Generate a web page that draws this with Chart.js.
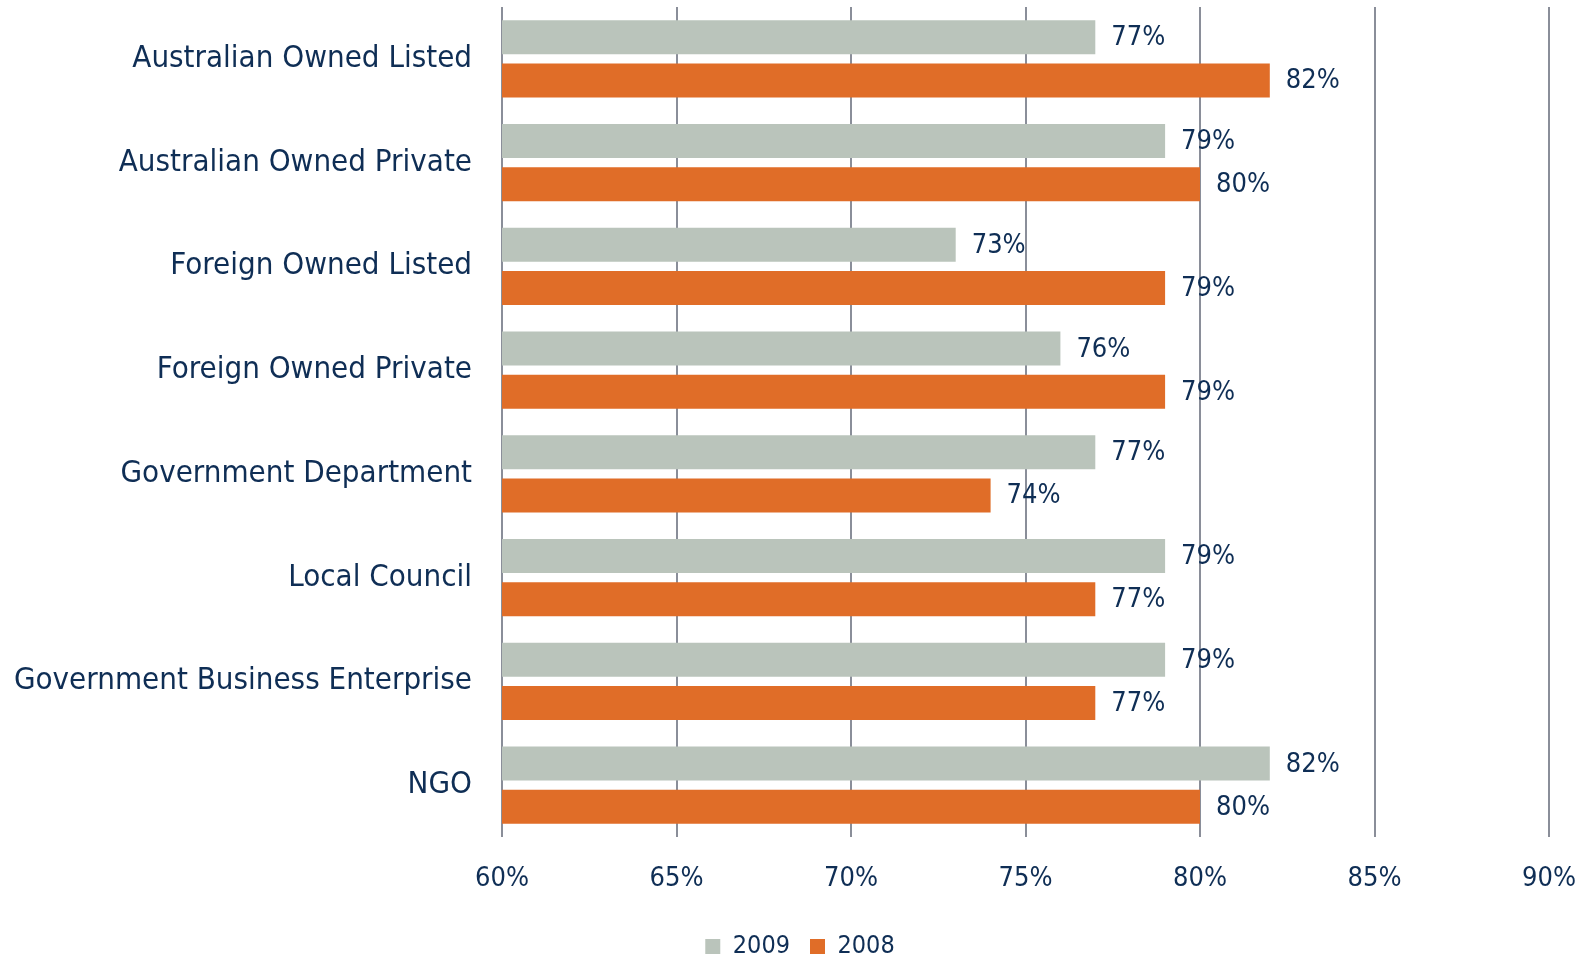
<!DOCTYPE html>
<html>
<head>
<meta charset="utf-8">
<script src="https://cdn.jsdelivr.net/npm/chart.js@4.4.1/dist/chart.umd.min.js"></script>
<style>
  html, body { margin: 0; padding: 0; background: #ffffff; }
  canvas { display: block; }
</style>
</head>
<body>
<canvas id="c" width="1584" height="958"></canvas>
<script>
const categories = [
  "Australian Owned Listed",
  "Australian Owned Private",
  "Foreign Owned Listed",
  "Foreign Owned Private",
  "Government Department",
  "Local Council",
  "Government Business Enterprise",
  "NGO"
];
const values2009 = [77, 79, 73, 76, 77, 79, 79, 82];
const values2008 = [82, 80, 79, 79, 74, 77, 77, 80];
const seriesNames = ["2009", "2008"];
const axisMin = 60, axisMax = 90, axisStep = 5;

const NAVY = "#0f2e55";
const FONT = "'DejaVu Sans Condensed', 'DejaVu Sans', sans-serif";

const valueLabels = {
  id: "valueLabels",
  afterDatasetsDraw(chart) {
    const ctx = chart.ctx;
    ctx.save();
    ctx.font = "27px " + FONT;
    ctx.fillStyle = NAVY;
    ctx.textAlign = "left";
    ctx.textBaseline = "middle";
    chart.data.datasets.forEach((ds, i) => {
      const meta = chart.getDatasetMeta(i);
      meta.data.forEach((el, j) => {
        ctx.fillText(ds.data[j] + "%", el.x + 16, el.y + 1);
      });
    });
    ctx.restore();
  }
};

// Re-centre the legend row under the whole page (reference centres it near x=800)
const legendCentre = {
  id: "legendCentre",
  afterLayout(chart) {
    const lg = chart.legend;
    if (!lg) return;
    lg.left = 0;
    lg.right = 1600;
    lg.width = 1600;
  }
};

function noScalePadding(scale) {
  scale.paddingTop = 0;
  scale.paddingBottom = 0;
  scale.paddingLeft = 0;
  scale.paddingRight = 0;
}

new Chart(document.getElementById("c"), {
  type: "bar",
  data: {
    labels: categories,
    datasets: [
      { label: seriesNames[0], data: values2009, backgroundColor: "#bac4bb",
        categoryPercentage: 0.83, barPercentage: 0.79 },
      { label: seriesNames[1], data: values2008, backgroundColor: "#e06d28",
        categoryPercentage: 0.83, barPercentage: 0.79 }
    ]
  },
  options: {
    indexAxis: "y",
    responsive: false,
    animation: false,
    layout: { autoPadding: false, padding: { top: 7, right: 35, bottom: -11, left: 0 } },
    scales: {
      x: {
        min: axisMin, max: axisMax,
        ticks: {
          stepSize: axisStep,
          callback: v => v + "%",
          color: NAVY,
          font: { family: FONT, size: 27 },
          padding: 26,
          maxRotation: 0
        },
        grid: { color: "#8a8e99", lineWidth: 2, drawTicks: false },
        border: { display: false },
        afterFit(scale) { scale.height = 77; noScalePadding(scale); }
      },
      y: {
        ticks: {
          color: NAVY,
          font: { family: FONT, size: 31 },
          padding: 30
        },
        grid: { display: false, drawTicks: false },
        border: { display: false },
        afterFit(scale) { scale.width = 502; noScalePadding(scale); }
      }
    },
    plugins: {
      legend: {
        position: "bottom",
        labels: {
          boxWidth: 15, boxHeight: 15,
          color: NAVY,
          font: { family: FONT, size: 25 },
          padding: 20
        }
      },
      tooltip: { enabled: false }
    }
  },
  plugins: [valueLabels, legendCentre]
});
</script>
</body>
</html>
